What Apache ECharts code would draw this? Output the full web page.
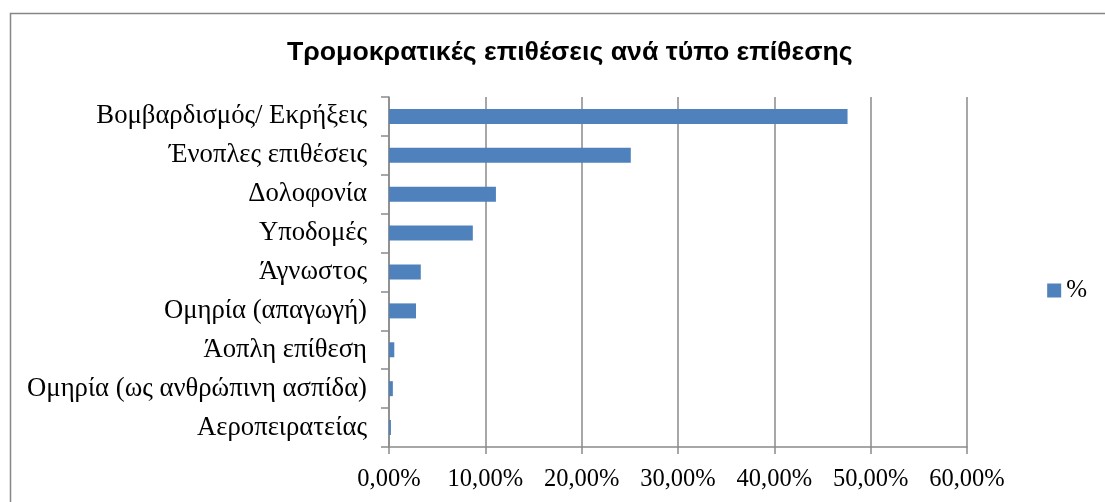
<!DOCTYPE html>
<html>
<head>
<meta charset="utf-8">
<script src="https://cdn.jsdelivr.net/npm/echarts@6/dist/echarts.min.js"></script>
<style>
  html, body { margin: 0; padding: 0; background: #ffffff; }
  #chart { width: 1105px; height: 502px; }
</style>
</head>
<body>
<div id="chart"></div>
<script>
// Attack types, top to bottom
const categories = [
  'Βομβαρδισμός/ Εκρήξεις',
  'Ένοπλες επιθέσεις',
  'Δολοφονία',
  'Υποδομές',
  'Άγνωστος',
  'Ομηρία (απαγωγή)',
  'Άοπλη επίθεση',
  'Ομηρία (ως ανθρώπινη ασπίδα)',
  'Αεροπειρατείας'
];
// Share of attacks, in percent
const shares = [47.6, 25.1, 11.1, 8.7, 3.3, 2.8, 0.55, 0.4, 0.2];
const seriesName = '%';
const chartTitle = 'Τρομοκρατικές επιθέσεις ανά τύπο επίθεσης';

const serif = '"Liberation Serif", "DejaVu Serif", serif';
const sans = '"Liberation Sans", Arial, sans-serif';
const gridColor = '#8a8a8a';

const chart = echarts.init(document.getElementById('chart'));
chart.setOption({
  animation: false,
  backgroundColor: '#ffffff',
  title: {
    text: chartTitle,
    left: 282,
    top: 34,
    textStyle: { fontFamily: sans, fontWeight: 'bold', fontSize: 26.7, color: '#000' }
  },
  legend: {
    data: [seriesName],
    right: 13,
    top: 273,
    itemWidth: 14,
    itemHeight: 14,
    itemGap: 7,
    icon: 'rect',
    textStyle: { fontFamily: serif, fontSize: 25, color: '#000' }
  },
  grid: { left: 389, right: 138, top: 97, bottom: 55, containLabel: false },
  xAxis: {
    type: 'value',
    min: 0,
    max: 60,
    interval: 10,
    axisLine: { show: true, lineStyle: { color: gridColor, width: 1.5 } },
    axisTick: { show: true, length: 7, lineStyle: { color: gridColor, width: 1.5 } },
    splitLine: { show: true, lineStyle: { color: gridColor, width: 1.5 } },
    axisLabel: {
      margin: 20,
      fontFamily: serif,
      fontSize: 24.5,
      color: '#000',
      formatter: v => v.toFixed(2).replace('.', ',') + '%'
    }
  },
  yAxis: {
    type: 'category',
    data: categories,
    inverse: true,
    axisLine: { show: true, lineStyle: { color: gridColor, width: 1.5 } },
    axisTick: { show: true, length: 8, lineStyle: { color: gridColor, width: 1.5 } },
    axisLabel: { margin: 22, fontFamily: serif, fontSize: 26.7, color: '#000' }
  },
  series: [{
    name: seriesName,
    type: 'bar',
    data: shares,
    barWidth: 15,
    itemStyle: { color: '#4F81BD' }
  }],
  graphic: [{
    type: 'rect',
    shape: { x: 10.5, y: 13.5, width: 1200, height: 600 },
    style: { fill: 'none', stroke: '#868686', lineWidth: 1.5 },
    silent: true
  }]
});
</script>
</body>
</html>
